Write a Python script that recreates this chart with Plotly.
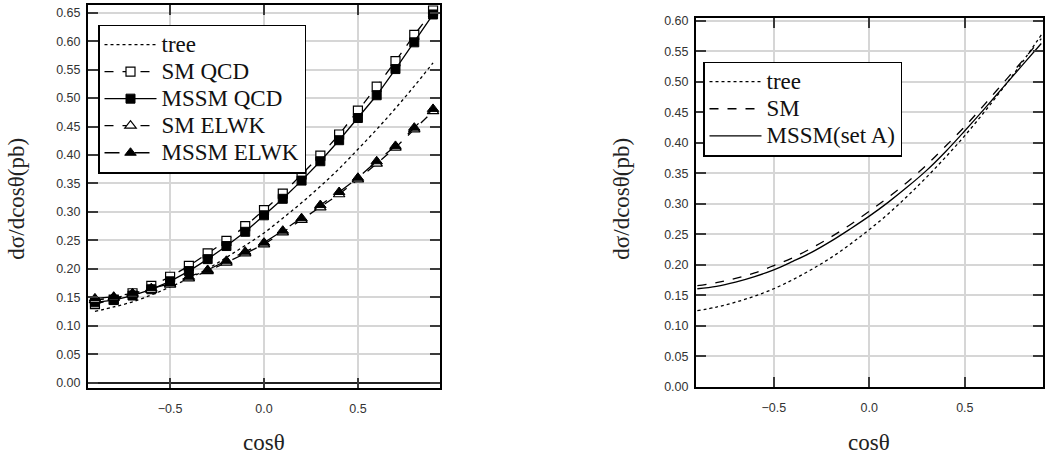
import plotly.graph_objects as go

# ---------------- data ----------------
cos_theta = [-0.9, -0.8, -0.7, -0.6, -0.5, -0.4, -0.3, -0.2, -0.1, 0.0,
             0.1, 0.2, 0.3, 0.4, 0.5, 0.6, 0.7, 0.8, 0.9]

# left panel
tree_left = [0.125, 0.133, 0.142, 0.154, 0.168, 0.183, 0.200, 0.220, 0.241, 0.263,
             0.289, 0.316, 0.345, 0.376, 0.410, 0.445, 0.482, 0.521, 0.562]
sm_qcd = [0.138, 0.146, 0.157, 0.170, 0.186, 0.205, 0.227, 0.249, 0.275, 0.303,
          0.332, 0.366, 0.399, 0.436, 0.478, 0.520, 0.565, 0.611, 0.654]
mssm_qcd = [0.141, 0.145, 0.153, 0.164, 0.178, 0.196, 0.217, 0.240, 0.265, 0.294,
            0.323, 0.355, 0.389, 0.426, 0.465, 0.505, 0.551, 0.598, 0.647]
sm_elwk = [0.145, 0.149, 0.155, 0.163, 0.172, 0.183, 0.196, 0.211, 0.227, 0.243,
           0.264, 0.286, 0.308, 0.331, 0.357, 0.385, 0.413, 0.445, 0.477]
mssm_elwk = [0.148, 0.151, 0.157, 0.166, 0.174, 0.186, 0.198, 0.214, 0.230, 0.246,
             0.267, 0.289, 0.312, 0.335, 0.360, 0.389, 0.416, 0.448, 0.481]

# right panel
tree_right = [0.125, 0.131, 0.139, 0.149, 0.161, 0.176, 0.193, 0.212, 0.234, 0.258,
              0.284, 0.313, 0.344, 0.377, 0.412, 0.450, 0.490, 0.532, 0.577]
sm_right = [0.166, 0.171, 0.178, 0.187, 0.199, 0.212, 0.228, 0.246, 0.266, 0.288,
            0.311, 0.336, 0.364, 0.395, 0.427, 0.462, 0.498, 0.534, 0.571]
mssm_right = [0.161, 0.165, 0.172, 0.181, 0.192, 0.206, 0.221, 0.239, 0.259, 0.280,
              0.303, 0.328, 0.355, 0.386, 0.420, 0.455, 0.491, 0.527, 0.563]

left_yticks = [0.00, 0.05, 0.10, 0.15, 0.20, 0.25, 0.30, 0.35, 0.40, 0.45, 0.50, 0.55, 0.60, 0.65]
right_yticks = [0.00, 0.05, 0.10, 0.15, 0.20, 0.25, 0.30, 0.35, 0.40, 0.45, 0.50, 0.55, 0.60]
xticks = [-0.5, 0.0, 0.5]

left_names = ["tree", "SM QCD", "MSSM QCD", "SM ELWK", "MSSM ELWK"]
right_names = ["tree", "SM", "MSSM(set A)"]

y_title = "dσ/dcosθ(pb)"
x_title = "cosθ"

# ---------------- figure ----------------
W, H = 1049, 461
serif = "Liberation Serif"
sans = "Liberation Sans"
LW = 1.3
LEG_TXT = 23


def leg(name):
    return '<span style="font-size:%dpx">%s</span>' % (LEG_TXT, name)


fig = go.Figure()

# left panel traces
fig.add_trace(go.Scatter(x=cos_theta, y=tree_left, mode="lines", name=leg(left_names[0]),
                         line=dict(color="black", width=LW, dash="dot", shape="spline"),
                         xaxis="x", yaxis="y", legend="legend"))
fig.add_trace(go.Scatter(x=cos_theta, y=sm_qcd, mode="lines+markers", name=leg(left_names[1]),
                         line=dict(color="black", width=LW, dash="dash"),
                         marker=dict(symbol="square", size=9, color="white",
                                     line=dict(color="black", width=1.2)),
                         xaxis="x", yaxis="y", legend="legend"))
fig.add_trace(go.Scatter(x=cos_theta, y=mssm_qcd, mode="lines+markers", name=leg(left_names[2]),
                         line=dict(color="black", width=LW),
                         marker=dict(symbol="square", size=9, color="black",
                                     line=dict(color="black", width=1)),
                         xaxis="x", yaxis="y", legend="legend"))
fig.add_trace(go.Scatter(x=cos_theta, y=sm_elwk, mode="lines+markers", name=leg(left_names[3]),
                         line=dict(color="black", width=LW, dash="dash"),
                         marker=dict(symbol="triangle-up", size=10, color="white",
                                     line=dict(color="black", width=1.2)),
                         xaxis="x", yaxis="y", legend="legend"))
fig.add_trace(go.Scatter(x=cos_theta, y=mssm_elwk, mode="lines+markers", name=leg(left_names[4]),
                         line=dict(color="black", width=LW, dash="longdash"),
                         marker=dict(symbol="triangle-up", size=10, color="black",
                                     line=dict(color="black", width=1)),
                         xaxis="x", yaxis="y", legend="legend"))

# right panel traces
fig.add_trace(go.Scatter(x=cos_theta, y=tree_right, mode="lines", name=leg(right_names[0]),
                         line=dict(color="black", width=LW, dash="dot", shape="spline"),
                         xaxis="x2", yaxis="y2", legend="legend2"))
fig.add_trace(go.Scatter(x=cos_theta, y=sm_right, mode="lines", name=leg(right_names[1]),
                         line=dict(color="black", width=LW, dash="dash", shape="spline"),
                         xaxis="x2", yaxis="y2", legend="legend2"))
fig.add_trace(go.Scatter(x=cos_theta, y=mssm_right, mode="lines", name=leg(right_names[2]),
                         line=dict(color="black", width=LW, shape="spline"),
                         xaxis="x2", yaxis="y2", legend="legend2"))


def px_x(p):
    return p / W


def px_y(p):
    return 1 - p / H


common_axis = dict(
    showline=True, linecolor="black", linewidth=2, mirror="allticks",
    ticks="inside", ticklen=10, tickwidth=2, tickcolor="#3a3a3a",
    showgrid=True, gridcolor="#d6d6d6", gridwidth=1.5,
    tickfont=dict(family=sans, size=12.5, color="#333333"),
    zeroline=False,
)

legend_common = dict(xanchor="left", yanchor="top",
                     bgcolor="white", bordercolor="black", borderwidth=1.5,
                     font=dict(family=serif, size=18.5, color="#111111"),
                     tracegroupgap=0, itemwidth=52)

title_font = dict(family=serif, size=23, color="#222222")

fig.update_layout(
    width=W, height=H,
    margin=dict(l=0, r=0, t=0, b=0),
    paper_bgcolor="white", plot_bgcolor="white",
    showlegend=True,
    xaxis=dict(common_axis, domain=[px_x(88), px_x(440)], range=[-0.937, 0.937],
               tickvals=xticks, tickformat=".1f", anchor="y", ticklabelstandoff=8),
    yaxis=dict(common_axis, domain=[px_y(394), px_y(2)], range=[-0.0103, 0.6637],
               tickvals=left_yticks, tickformat=".2f", anchor="x", ticklabelstandoff=3,
               zeroline=True, zerolinecolor="#222222", zerolinewidth=1.5),
    xaxis2=dict(common_axis, domain=[px_x(696), px_x(1043)], range=[-0.907, 0.909],
                tickvals=xticks, tickformat=".1f", anchor="y2", ticklabelstandoff=8),
    yaxis2=dict(common_axis, domain=[px_y(393), px_y(15)], range=[-0.0008, 0.6053],
                tickvals=right_yticks, tickformat=".2f", anchor="x2", ticklabelstandoff=3),
    legend=dict(legend_common, x=px_x(98), y=px_y(22)),
    legend2=dict(legend_common, x=px_x(703), y=px_y(60)),
    annotations=[
        dict(text=y_title, xref="paper", yref="paper", x=px_x(17), y=px_y(200),
             xanchor="center", yanchor="middle",
             textangle=-90, showarrow=False, font=title_font),
        dict(text=y_title, xref="paper", yref="paper", x=px_x(622), y=px_y(200),
             xanchor="center", yanchor="middle",
             textangle=-90, showarrow=False, font=title_font),
        dict(text=x_title, xref="paper", yref="paper", x=px_x(264), y=px_y(449),
             xanchor="center", yanchor="middle", showarrow=False, font=title_font),
        dict(text=x_title, xref="paper", yref="paper", x=px_x(869), y=px_y(449),
             xanchor="center", yanchor="middle", showarrow=False, font=title_font),
    ],
)

fig.write_html("out.html")
